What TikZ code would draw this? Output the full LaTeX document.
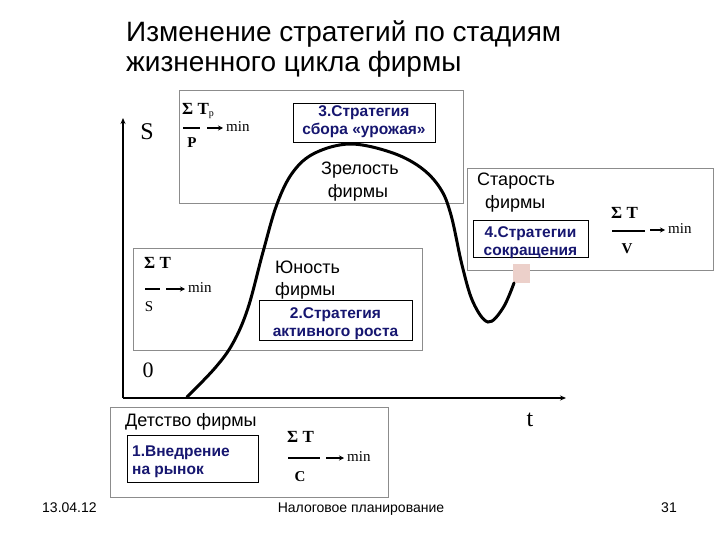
\documentclass[tikz,border=0pt]{standalone}
\usepackage{fontspec}
\setmainfont{Liberation Sans}
\newfontfamily\serifm{Liberation Serif}
\usetikzlibrary{arrows.meta}
\definecolor{navy}{RGB}{22,22,112}
\definecolor{boxgray}{RGB}{140,140,140}
\definecolor{pinkish}{RGB}{236,208,202}
\begin{document}
\begin{tikzpicture}[x=1pt,y=-1pt,
  obox/.style={draw=boxgray,line width=0.8pt,inner sep=0},
  ibox/.style={draw=black,line width=0.8pt,inner sep=0},
  strat/.style={font=\bfseries\fontsize{15.5}{18}\selectfont,text=navy,align=center,inner sep=0},
  lbl/.style={inner sep=0,font=\fontsize{18}{22}\selectfont},
  sig/.style={inner sep=0,font=\serifm\bfseries\fontsize{17}{17}\selectfont},
  mn/.style={inner sep=0,font=\serifm\fontsize{15}{15}\selectfont},
  den/.style={inner sep=0,font=\serifm\bfseries\fontsize{15}{15}\selectfont},
  bar/.style={line width=1.3pt},
  arr/.style={line width=1.1pt,-{Stealth[length=5pt,width=5pt]}},
  foot/.style={inner sep=0,font=\fontsize{14}{16}\selectfont}]
\useasboundingbox (0,0) rectangle (720,540);
% title
\node[inner sep=0,anchor=base west,font=\fontsize{28}{32}\selectfont] (t1) at (126,42) {Изменение стратегий по стадиям};
\node[inner sep=0,anchor=base west,font=\fontsize{28}{32}\selectfont] (t2) at (126,72) {жизненного цикла фирмы};
% outer boxes
\node[obox,minimum width=284,minimum height=113] (b3) at (321,146.5) {};
\node[obox,minimum width=246,minimum height=102] (b4) at (590,219) {};
\node[obox,minimum width=289,minimum height=102] (b2) at (277.5,299) {};
\node[obox,minimum width=278,minimum height=90] (b1) at (249,452) {};
% pink mark
\fill[pinkish] (513,264) rectangle (530,283);
% axes
\coordinate (O) at (123,398);
\coordinate (Ytop) at (123,118);
\coordinate (Xend) at (566,398);
\draw[line width=1.6pt,-{Stealth[length=6pt,width=5pt]}] (O) -- (Ytop);
\draw[line width=1.2pt,-{Stealth[length=6pt,width=5pt]}] (O) -- (Xend);
\node[inner sep=0,font=\serifm\fontsize{24}{24}\selectfont] (S) at (147,132) {S};
\node[inner sep=0,font=\serifm\fontsize{22}{22}\selectfont] (zero) at (148,370) {0};
\node[inner sep=0,font=\serifm\fontsize{24}{24}\selectfont] (tt) at (530,420) {t};
% curve
\draw[line width=3pt,line cap=round] plot[smooth,tension=0.6] coordinates {
 (187,397) (215,368) (233,343) (248,308) (263,252) (277,204) (293,172) (315,153) (350,144)
 (390,152) (420,167) (440,188) (451,215) (462,265) (473,302) (488,322) (503,308) (514,283)};
% box 3 contents
\node[ibox,fill=white,minimum width=142,minimum height=39] (s3) at (364,122.5) {};
\node[strat] (s3t) at (364,122) {3.Стратегия\\сбора «урожая»};
\node[sig,anchor=west] (sp) at (182,111) {Σ T\raisebox{-2pt}{\fontsize{10}{10}\selectfont\mdseries p}};
\coordinate (pb1) at (183,128); \coordinate (pb2) at (200,128);
\coordinate (pa1) at (207,128); \coordinate (pa2) at (223,128);
\draw[bar] (pb1) -- (pb2);
\draw[arr] (pa1) -- (pa2);
\node[mn,anchor=west] (pm) at (226,127) {min};
\node[den] (pP) at (192,143) {P};
\node[lbl,anchor=base] (zr1) at (360,175) {Зрелость};
\node[lbl,anchor=base] (zr2) at (358,197) {фирмы};
% box 4 contents
\node[lbl,anchor=base west] (st1) at (477,186) {Старость};
\node[lbl,anchor=base west] (st2) at (485,208) {фирмы};
\node[ibox,fill=white,minimum width=115,minimum height=37] (s4) at (530.5,239) {};
\node[strat] (s4t) at (530.5,242.5) {4.Стратегии\\сокращения};
\node[sig,anchor=west] (sv) at (611,213) {Σ T};
\coordinate (vb1) at (612,231); \coordinate (vb2) at (645,231);
\coordinate (va1) at (650,230); \coordinate (va2) at (665,230);
\draw[bar] (vb1) -- (vb2);
\draw[arr] (va1) -- (va2);
\node[mn,anchor=west] (vm) at (668,229) {min};
\node[den] (vV) at (627,249) {V};
% box 2 contents
\node[sig,anchor=west] (ss) at (144,263) {Σ T};
\coordinate (sb1) at (145,289); \coordinate (sb2) at (160,289);
\coordinate (sa1) at (166,289); \coordinate (sa2) at (185,289);
\draw[bar] (sb1) -- (sb2);
\draw[arr] (sa1) -- (sa2);
\node[mn,anchor=west] (sm) at (188,288) {min};
\node[inner sep=0,font=\serifm\fontsize{15}{15}\selectfont] (sS) at (149,307) {S};
\node[lbl,anchor=base west] (yu1) at (275,273) {Юность};
\node[lbl,anchor=base west] (yu2) at (275,295) {фирмы};
\node[ibox,fill=white,minimum width=153,minimum height=40] (s2) at (335.5,320) {};
\node[strat] (s2t) at (335.5,323.5) {2.Стратегия\\активного роста};
% box 1 contents
\node[lbl,anchor=base west] (de) at (125,426) {Детство фирмы};
\node[ibox,fill=white,minimum width=131,minimum height=47] (s1) at (192.5,458.5) {};
\node[strat,align=left,anchor=west] (s1t) at (132,462) {1.Внедрение\\на рынок};
\node[sig,anchor=west] (sc) at (287,437) {Σ T};
\coordinate (cb1) at (288,458); \coordinate (cb2) at (320,458);
\coordinate (ca1) at (326,458); \coordinate (ca2) at (344,458);
\draw[bar] (cb1) -- (cb2);
\draw[arr] (ca1) -- (ca2);
\node[mn,anchor=west] (cm) at (347,457) {min};
\node[den] (cC) at (300,477) {C};
% footer
\node[foot,anchor=base west] (f1) at (42,512) {13.04.12};
\node[foot,anchor=base] (f2) at (361,512) {Налоговое планирование};
\node[foot,anchor=base east] (f3) at (677,512) {31};
\end{tikzpicture}
\end{document}
